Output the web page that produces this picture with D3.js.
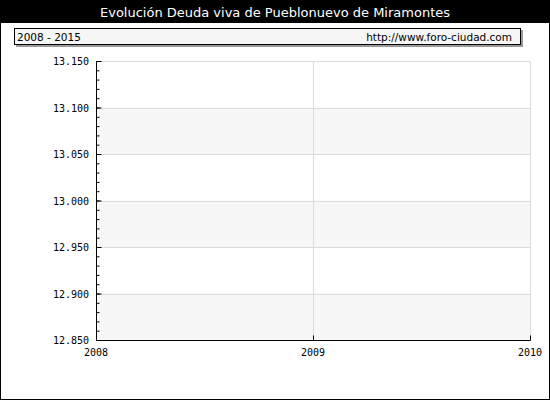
<!DOCTYPE html>
<html>
<head>
<meta charset="utf-8">
<script src="https://cdn.jsdelivr.net/npm/d3@7"></script>
<style>
  body { margin: 0; background: #fff; }
  svg { display: block; }
</style>
</head>
<body>
<div id="chart"></div>
<script>
// chart data
var titleText = "Evolución Deuda viva de Pueblonuevo de Miramontes";
var periodText = "2008 - 2015";
var sourceText = "http://www.foro-ciudad.com";
var years = [2008, 2009, 2010];
var yTicks = [12850, 12900, 12950, 13000, 13050, 13100, 13150];
var deuda = []; // no values shown in the picture

var W = 550, H = 400;
var margin = {top: 61, right: 20, bottom: 60, left: 96};

var svg = d3.select("#chart").append("svg")
    .attr("width", W)
    .attr("height", H);

// title bar
svg.append("rect").attr("x", 0).attr("y", 0).attr("width", W).attr("height", 23).attr("fill", "#000");
svg.append("text")
    .attr("x", W / 2).attr("y", 17)
    .attr("text-anchor", "middle")
    .attr("fill", "#fff")
    .style("font-family", "DejaVu Sans, Verdana, sans-serif")
    .style("font-size", "13px")
    .text(titleText);

// outer frame
svg.append("rect").attr("x", 0.5).attr("y", 0.5).attr("width", W - 1).attr("height", H - 1)
    .attr("fill", "none").attr("stroke", "#000");

// sub header box with shadow
svg.append("rect").attr("x", 16).attr("y", 30).attr("width", 507).attr("height", 17).attr("fill", "#999");
svg.append("rect").attr("x", 14.5).attr("y", 28.5).attr("width", 506).attr("height", 16)
    .attr("fill", "#f6f6f6").attr("stroke", "#000");
svg.append("text")
    .attr("x", 17).attr("y", 40.5)
    .style("font-family", "DejaVu Sans, Verdana, sans-serif")
    .style("font-size", "10.5px")
    .text(periodText);
svg.append("text")
    .attr("x", 512).attr("y", 40.5)
    .attr("text-anchor", "end")
    .style("font-family", "DejaVu Sans, Verdana, sans-serif")
    .style("font-size", "10.5px")
    .text(sourceText);

var x = d3.scaleLinear()
    .domain(d3.extent(years))
    .range([margin.left, W - margin.right]);
var y = d3.scaleLinear()
    .domain(d3.extent(yTicks))
    .range([H - margin.bottom, margin.top]);

var fmt = d3.formatLocale({decimal: ",", thousands: ".", grouping: [3], currency: ["", "€"]}).format(",");

var g = svg.append("g");

// alternating bands
for (var i = 0; i < yTicks.length - 1; i += 2) {
  g.append("rect")
      .attr("x", x(years[0]))
      .attr("y", y(yTicks[i + 1]))
      .attr("width", x(years[years.length - 1]) - x(years[0]))
      .attr("height", y(yTicks[i]) - y(yTicks[i + 1]))
      .attr("fill", "#f7f7f7");
}

// grid lines
g.selectAll(".hgrid").data(yTicks.slice(1)).enter().append("line")
    .attr("x1", x(years[0])).attr("x2", x(years[years.length - 1]))
    .attr("y1", function(d) { return Math.round(y(d)) + 0.5; })
    .attr("y2", function(d) { return Math.round(y(d)) + 0.5; })
    .attr("stroke", "#dcdcdc");
g.selectAll(".vgrid").data(years.slice(1)).enter().append("line")
    .attr("x1", function(d) { return Math.round(x(d)) + 0.5; })
    .attr("x2", function(d) { return Math.round(x(d)) + 0.5; })
    .attr("y1", y.range()[1]).attr("y2", y.range()[0])
    .attr("stroke", "#dcdcdc");

// data line (empty)
var line = d3.line()
    .x(function(d, i) { return x(years[0] + i); })
    .y(function(d) { return y(d); });
g.append("path").datum(deuda).attr("d", line).attr("fill", "none").attr("stroke", "#3366cc");

// y axis: major and minor ticks pointing inward
var yAxis = d3.axisRight(y).tickValues(yTicks).tickSize(5).tickFormat("");
var yAxisMinor = d3.axisRight(y).tickValues(d3.range(12850, 13151, 10)).tickSize(3).tickFormat("");
var ya = svg.append("g").attr("transform", "translate(" + (margin.left + 0.5) + ",0)").call(yAxisMinor);
svg.append("g").attr("transform", "translate(" + (margin.left + 0.5) + ",0)").call(yAxis);
svg.selectAll(".domain").remove();
svg.append("line")
    .attr("x1", margin.left + 0.5).attr("x2", margin.left + 0.5)
    .attr("y1", y.range()[1]).attr("y2", y.range()[0] + 0.5)
    .attr("stroke", "#000");
svg.selectAll(".tick line").attr("stroke", "#000");

svg.selectAll(".ylab").data(yTicks).enter().append("text")
    .attr("x", 89).attr("y", function(d) { return y(d) + 4; })
    .attr("text-anchor", "end")
    .style("font-family", "DejaVu Sans Mono, monospace")
    .style("font-size", "10px")
    .text(function(d) { return fmt(d); });

// x axis: ticks pointing up
var xAxis = d3.axisTop(x).tickValues(years).tickSize(5).tickFormat("");
var xa = svg.append("g").attr("transform", "translate(0," + (y.range()[0] + 0.5) + ")").call(xAxis);
xa.select(".domain").remove();
xa.selectAll(".tick line").attr("stroke", "#000");
svg.append("line")
    .attr("x1", margin.left).attr("x2", x(years[years.length - 1]) + 0.5)
    .attr("y1", y.range()[0] + 0.5).attr("y2", y.range()[0] + 0.5)
    .attr("stroke", "#000");

svg.selectAll(".xlab").data(years).enter().append("text")
    .attr("x", function(d) { return x(d); })
    .attr("y", y.range()[0] + 16)
    .attr("text-anchor", "middle")
    .style("font-family", "DejaVu Sans Mono, monospace")
    .style("font-size", "10px")
    .text(function(d) { return d; });
</script>
</body>
</html>
